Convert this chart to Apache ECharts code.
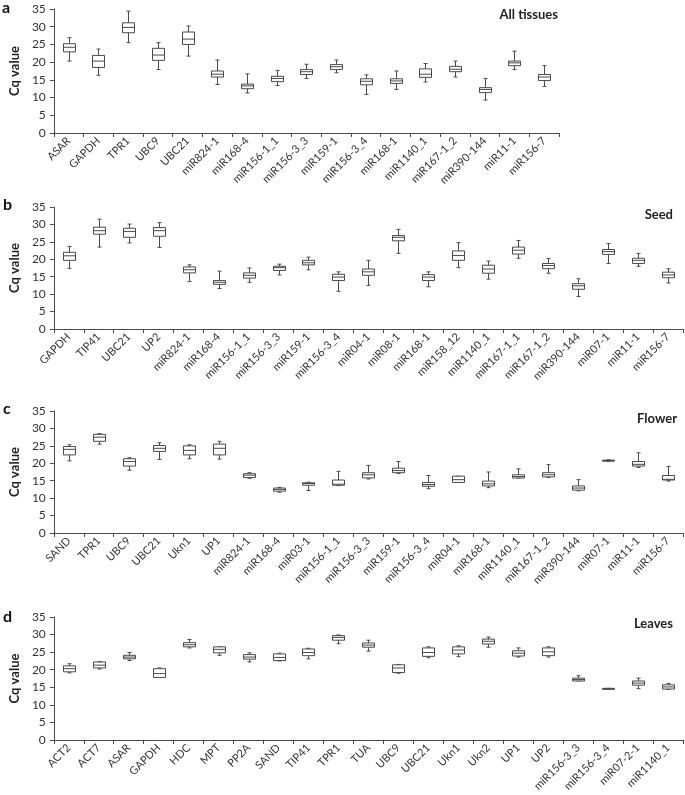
<!DOCTYPE html>
<html>
<head>
<meta charset="utf-8">
<script src="https://cdn.jsdelivr.net/npm/echarts@6/dist/echarts.min.js"></script>
<style>
html,body{margin:0;padding:0;background:#fff;}
#chart{width:685px;height:795px;}
</style>
</head>
<body>
<div id="chart"></div>
<script>
// ---- Data: each box = [min, Q1, median, Q3, max] ----
const catsA = ['ASAR','GAPDH','TPR1','UBC9','UBC21','miR824-1','miR168-4','miR156-1_1','miR156-3_3','miR159-1','miR156-3_4','miR168-1','miR1140_1','miR167-1_2','miR390-144','miR11-1','miR156-7'];
const boxesA = [
  [20.3,22.9,24.2,25.2,26.9],[16.3,18.5,20.3,21.9,23.7],[25.5,28.3,29.8,31.1,34.4],[17.9,20.5,22.0,23.9,25.5],
  [21.7,25.0,26.5,28.5,30.2],[13.7,15.8,16.6,17.5,20.6],[11.3,12.5,13.3,13.8,16.7],[13.4,14.5,15.4,16.0,17.7],
  [15.4,16.5,17.3,17.9,19.4],[17.0,17.9,18.7,19.3,20.6],[10.9,13.6,14.6,15.3,16.4],[12.3,14.0,14.7,15.3,17.5],
  [14.4,15.7,16.6,18.1,19.6],[15.8,17.3,18.0,18.8,20.3],[9.3,11.4,12.3,12.8,15.4],[17.9,19.0,19.8,20.3,23.1],
  [13.1,14.8,15.8,16.5,19.0]
];
const catsB = ['GAPDH','TIP41','UBC21','UP2','miR824-1','miR168-4','miR156-1_1','miR156-3_3','miR159-1','miR156-3_4','miR04-1','miR08-1','miR168-1','miR158_12','miR1140_1','miR167-1_1','miR167-1_2','miR390-144','miR07-1','miR11-1','miR156-7'];
const boxesB = [
  [17.4,19.7,21.0,22.0,23.7],[23.5,27.2,28.2,29.2,31.5],[24.7,26.3,28.0,28.9,30.1],[23.4,26.6,28.2,29.1,30.5],
  [13.6,16.1,17.0,17.8,18.4],[11.6,12.8,13.4,13.9,16.6],[13.4,14.6,15.4,16.1,17.5],[15.5,16.8,17.6,18.0,18.6],
  [17.0,18.4,19.0,19.7,20.6],[10.8,13.9,14.9,15.7,16.4],[12.5,15.4,16.4,17.2,19.7],[21.7,25.3,26.3,26.8,28.6],
  [12.1,13.9,14.9,15.6,16.4],[17.6,19.7,21.1,22.4,24.8],[14.3,16.0,17.2,18.3,19.5],[20.3,21.5,22.6,23.5,25.4],
  [16.0,17.3,18.2,18.8,20.2],[9.3,11.4,12.4,13.0,14.4],[18.8,21.4,22.2,22.8,24.5],[18.0,18.8,19.7,20.3,21.7],
  [13.2,14.7,15.5,16.3,17.3]
];
const catsC = ['SAND','TPR1','UBC9','UBC21','Ukn1','UP1','miR824-1','miR168-4','miR03-1','miR156-1_1','miR156-3_3','miR159-1','miR156-3_4','miR04-1','miR168-1','miR1140_1','miR167-1_2','miR390-144','miR07-1','miR11-1','miR156-7'];
const boxesC = [
  [20.7,22.4,24.0,24.8,25.3],[25.5,26.3,27.5,28.3,28.5],[18.0,19.2,20.5,21.3,21.6],[21.1,23.4,24.3,25.1,25.9],
  [21.3,22.4,23.7,25.0,25.3],[21.2,22.4,24.3,25.5,26.3],[15.7,15.9,16.6,17.0,17.3],[11.7,12.0,12.5,12.9,13.1],
  [12.2,13.7,14.2,14.4,14.6],[13.6,13.7,14.0,15.2,17.7],[15.5,15.8,16.7,17.3,19.4],[17.1,17.3,17.9,18.6,20.5],
  [12.7,13.4,13.9,14.5,16.5],[14.5,14.5,15.3,16.3,16.3],[13.0,13.5,14.1,14.9,17.5],[15.8,15.8,16.2,16.7,18.4],
  [15.9,16.1,16.7,17.3,19.6],[12.1,12.3,12.9,13.5,15.3],[20.5,20.6,20.8,20.9,21.0],[18.8,19.2,19.7,20.5,23.0],
  [14.9,15.2,15.4,16.5,19.1]
];
const catsD = ['ACT2','ACT7','ASAR','GAPDH','HDC','MPT','PP2A','SAND','TIP41','TPR1','TUA','UBC9','UBC21','Ukn1','Ukn2','UP1','UP2','miR156-3_3','miR156-3_4','miR07-2-1','miR1140_1'];
const boxesD = [
  [19.1,19.4,20.3,21.1,21.7],[20.2,20.5,21.3,22.2,22.3],[22.6,23.1,23.6,24.1,24.9],[17.8,17.8,18.9,20.3,20.5],
  [26.2,26.5,27.1,27.7,28.6],[24.1,24.8,25.8,26.5,26.5],[22.2,23.0,23.6,24.3,24.8],[22.5,22.6,23.5,24.5,24.7],
  [23.1,24.0,24.9,25.9,26.1],[27.4,28.4,29.2,29.7,29.9],[25.3,26.4,27.0,27.6,28.4],[19.0,19.2,20.5,21.4,21.5],
  [23.4,23.8,24.9,26.2,26.5],[23.7,24.5,25.6,26.5,26.8],[26.4,27.3,28.1,28.7,29.3],[23.6,23.9,24.7,25.4,26.2],
  [23.6,24.0,25.1,26.2,26.5],[16.8,16.8,17.2,17.6,18.3],[14.4,14.5,14.6,14.7,14.7],[14.6,15.6,16.2,16.8,17.6],
  [14.4,14.5,15.1,15.7,16.1]
];
const yTicks = [0,5,10,15,20,25,30,35];
const panelLetters = ['a','b','c','d'];
const panelTitles = ['All tissues','Seed','Flower','Leaves'];

// ---- Layout ----
const grids = [
  {left:43, right:126, top:9,   height:124},
  {left:43, right:2,   top:207, height:122},
  {left:43, right:2,   top:411, height:122},
  {left:43, right:2,   top:617, height:123}
];
const allCats = [catsA, catsB, catsC, catsD];
const allBoxes = [boxesA, boxesB, boxesC, boxesD];
const FONT = 'Lato, "Open Sans", sans-serif';
const LINE = '#4a4a4a';

function renderBox(params, api){
  const i = api.value(0);
  const pMin = api.coord([i, api.value(1)]);
  const pQ1 = api.coord([i, api.value(2)]);
  const pMed = api.coord([i, api.value(3)]);
  const pQ3 = api.coord([i, api.value(4)]);
  const pMax = api.coord([i, api.value(5)]);
  const x = Math.round(pMin[0]) + 0.5;
  const bw = 12, cw = 4;
  const st = {stroke: LINE, lineWidth: 1, fill: null};
  return {type:'group', children:[
    {type:'line', shape:{x1:x, y1:pMax[1], x2:x, y2:pQ3[1]}, style:st},
    {type:'line', shape:{x1:x, y1:pQ1[1], x2:x, y2:pMin[1]}, style:st},
    {type:'line', shape:{x1:x-cw/2, y1:pMax[1], x2:x+cw/2, y2:pMax[1]}, style:st},
    {type:'line', shape:{x1:x-cw/2, y1:pMin[1], x2:x+cw/2, y2:pMin[1]}, style:st},
    {type:'rect', shape:{x:x-bw/2, y:pQ3[1], width:bw, height:Math.max(1, pQ1[1]-pQ3[1])},
      style:{stroke: LINE, lineWidth:1, fill:'#fff'}},
    {type:'line', shape:{x1:x-bw/2, y1:pMed[1], x2:x+bw/2, y2:pMed[1]}, style:st}
  ]};
}

const option = {
  animation:false,
  backgroundColor:'#fff',
  grid: grids,
  title: [],
  xAxis: [], yAxis: [], series: []
};

for (let p = 0; p < 4; p++){
  option.xAxis.push({
    type:'category', gridIndex:p, data: allCats[p], boundaryGap:true,
    axisLine:{show:true, lineStyle:{color:LINE, width:1}},
    axisTick:{show:true, length:4, interval:0, lineStyle:{color:LINE}},
    axisLabel:{rotate:45, interval:0, fontSize:11, color:'#333', fontFamily:FONT, margin:6},
    splitLine:{show:false}
  });
  option.yAxis.push({
    type:'value', gridIndex:p, min:0, max:35, interval:5,
    name:'Cq value', nameLocation:'middle', nameRotate:90, nameGap:32,
    nameTextStyle:{fontSize:13, fontWeight:'bold', color:'#222', fontFamily:FONT},
    axisLine:{show:true, lineStyle:{color:LINE, width:1}},
    axisTick:{show:true, length:4, lineStyle:{color:LINE}},
    axisLabel:{fontSize:12, color:'#333', fontFamily:FONT, margin:8,
      formatter: v => yTicks.indexOf(v) >= 0 ? String(v) : ''},
    splitLine:{show:false}
  });
  option.series.push({
    type:'custom', xAxisIndex:p, yAxisIndex:p,
    renderItem: renderBox,
    encode:{x:0, y:[1,2,3,4,5]},
    data: allBoxes[p].map((b, i) => [i].concat(b)),
    silent:true
  });
}

const letterPos = [{left:2, top:0}, {left:3, top:197}, {left:3, top:401}, {left:3, top:609}];
const titlePos = [{right:127, top:8}, {right:12, top:208}, {right:8, top:412}, {right:12, top:617}];
for (let p = 0; p < 4; p++){
  option.title.push({text: panelLetters[p], left: letterPos[p].left, top: letterPos[p].top, padding:0,
    textStyle:{fontSize:16, fontWeight:'bold', color:'#111', fontFamily:FONT}});
  option.title.push({text: panelTitles[p], right: titlePos[p].right, top: titlePos[p].top, padding:0,
    textStyle:{fontSize:13, fontWeight:'bold', color:'#222', fontFamily:FONT}});
}

const chart = echarts.init(document.getElementById('chart'), null, {renderer:'canvas'});
chart.setOption(option);
</script>
</body>
</html>
